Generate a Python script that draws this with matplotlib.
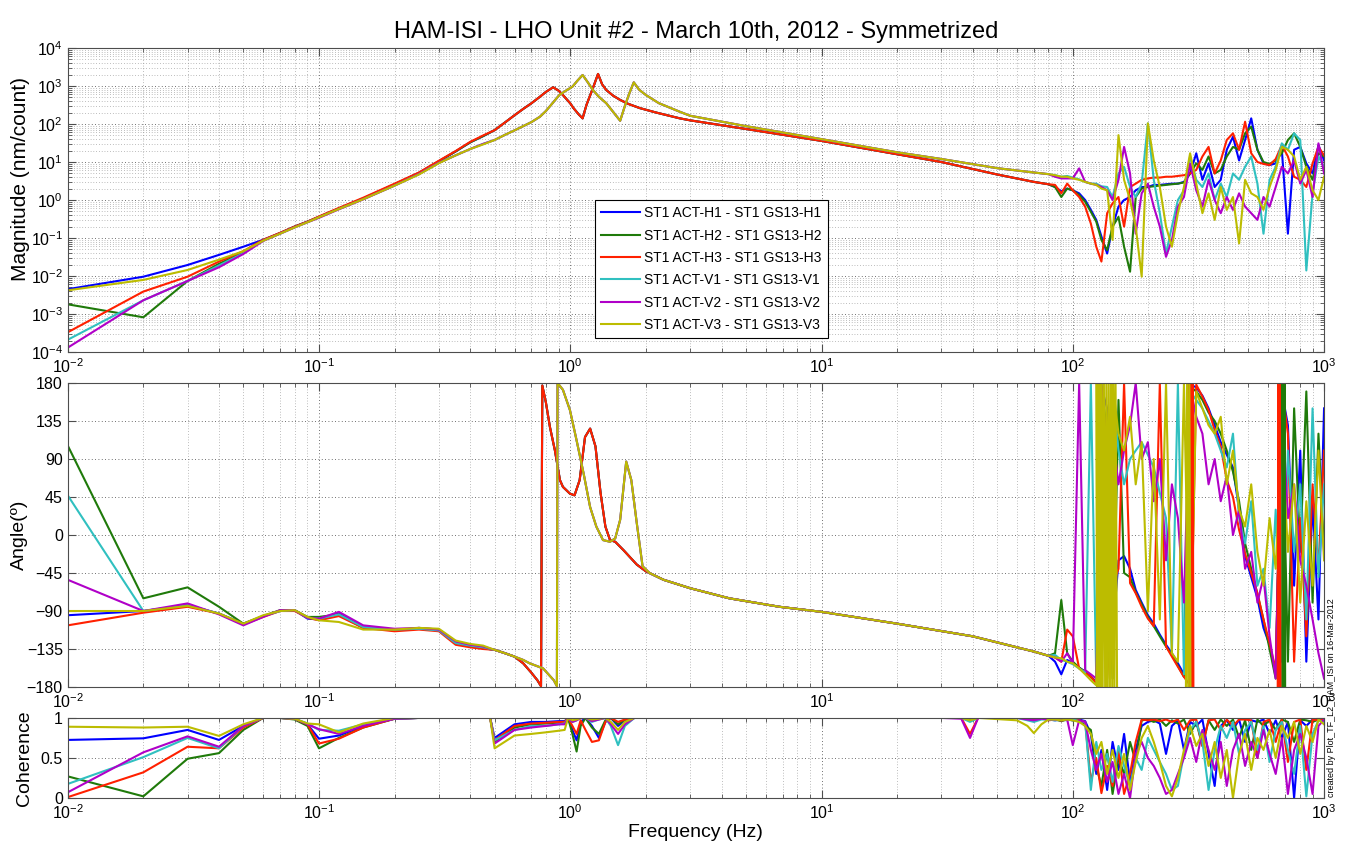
import numpy as np
import matplotlib.pyplot as plt
from matplotlib.ticker import LogLocator, FixedLocator, NullFormatter

plt.rcParams['font.family'] = ['Liberation Sans', 'DejaVu Sans']
plt.rcParams['mathtext.fontset'] = 'custom'
plt.rcParams['mathtext.rm'] = 'Liberation Sans'
plt.rcParams['mathtext.default'] = 'regular'

## Channels ##
channels = ['H1', 'H2', 'H3', 'V1', 'V2', 'V3']
labels = ['ST1 ACT-%s - ST1 GS13-%s' % (c, c) for c in channels]
colors = ['#0000ff', '#1f7a0a', '#ff2000', '#30c0c0', '#b000c8', '#bcbc00']
group = {'H1': 'H', 'H2': 'H', 'H3': 'H', 'V1': 'V', 'V2': 'V', 'V3': 'V'}

## Low frequency part, per channel ##
freq_lo = [0.01, 0.02, 0.03, 0.04, 0.05, 0.06, 0.07, 0.08, 0.09, 0.1, 0.12, 0.15, 0.2, 0.25, 0.3, 0.35, 0.4, 0.45]

mag_lo = {
    'H1': [0.0045, 0.0096, 0.0195, 0.036, 0.059, 0.09, 0.135, 0.2, 0.27, 0.36, 0.6, 1.1, 2.6, 5.2, 10.5, 19, 33, 48],
    'H2': [0.0018, 0.00082, 0.0074, 0.021, 0.042, 0.088, 0.135, 0.2, 0.27, 0.36, 0.6, 1.1, 2.6, 5.2, 10.5, 19, 33, 48],
    'H3': [0.00033, 0.0039, 0.0096, 0.024, 0.045, 0.09, 0.137, 0.2, 0.27, 0.37, 0.62, 1.15, 2.7, 5.3, 10.8, 19.5, 34, 50],
    'V1': [0.00021, 0.0023, 0.0074, 0.019, 0.04, 0.085, 0.13, 0.19, 0.26, 0.35, 0.58, 1.05, 2.4, 4.8, 9.5, 15, 22, 30],
    'V2': [0.00013, 0.0023, 0.0074, 0.017, 0.038, 0.084, 0.13, 0.19, 0.26, 0.34, 0.57, 1.04, 2.4, 4.8, 9.5, 15, 22, 30],
    'V3': [0.0042, 0.0079, 0.0144, 0.027, 0.045, 0.085, 0.13, 0.19, 0.26, 0.35, 0.58, 1.05, 2.4, 4.7, 9.3, 15, 22, 29],
}

phase_lo = {
    'H1': [-95, -90, -83, -93, -105, -96, -90, -89, -99, -100, -92, -109, -112, -111, -113, -128, -132, -134],
    'H2': [106, -75, -62, -85, -105, -96, -89, -89, -97, -97, -94, -110, -113, -110, -112, -127, -131, -134],
    'H3': [-107, -92, -85, -93, -106, -97, -90, -90, -98, -101, -96, -110, -114, -112, -114, -130, -133, -135],
    'V1': [47, -90, -83, -93, -106, -96, -90, -89, -98, -99, -94, -109, -112, -111, -113, -128, -131, -133],
    'V2': [-53, -90, -81, -94, -107, -97, -89, -89, -98, -99, -91, -107, -111, -110, -112, -126, -130, -132],
    'V3': [-90, -90, -84, -93, -105, -95, -90, -89, -97, -101, -103, -112, -112, -110, -111, -125, -129, -131],
}

coh_lo = {
    'H1': [0.725, 0.745, 0.85, 0.725, 0.9, 1.0, 1.0, 0.99, 0.92, 0.74, 0.78, 0.9, 0.99, 1.0, 1.0, 1.0, 1.0, 1.0],
    'H2': [0.27, 0.02, 0.49, 0.56, 0.85, 1.0, 1.0, 0.98, 0.9, 0.62, 0.75, 0.88, 0.99, 1.0, 1.0, 1.0, 1.0, 1.0],
    'H3': [0.01, 0.32, 0.64, 0.62, 0.88, 1.0, 1.0, 0.99, 0.92, 0.68, 0.74, 0.88, 0.99, 1.0, 1.0, 1.0, 1.0, 1.0],
    'V1': [0.175, 0.51, 0.75, 0.62, 0.9, 1.0, 1.0, 0.99, 0.93, 0.85, 0.84, 0.92, 0.99, 1.0, 1.0, 1.0, 1.0, 1.0],
    'V2': [0.07, 0.57, 0.77, 0.64, 0.9, 1.0, 1.0, 0.99, 0.92, 0.86, 0.8, 0.9, 0.99, 1.0, 1.0, 1.0, 1.0, 1.0],
    'V3': [0.89, 0.88, 0.89, 0.775, 0.92, 1.0, 1.0, 0.99, 0.93, 0.92, 0.82, 0.93, 1.0, 1.0, 1.0, 1.0, 1.0, 1.0],
}

## Resonance region, per group (H / V) ##
freq_mag_mid = {
    'H': [0.5, 0.55, 0.6, 0.65, 0.7, 0.757, 0.8, 0.855, 0.9, 0.935, 1.0, 1.03, 1.08, 1.12, 1.16, 1.23, 1.29, 1.34, 1.39, 1.48, 1.58, 1.7, 1.89, 2.2, 2.73],
    'V': [0.5, 0.55, 0.6, 0.65, 0.7, 0.757, 0.8, 0.855, 0.905, 0.96, 1.02, 1.07, 1.12, 1.17, 1.23, 1.3, 1.39, 1.48, 1.58, 1.65, 1.72, 1.79, 1.88, 2.0, 2.25, 2.73],
}
mag_mid = {
    'H': [69, 110, 170, 250, 350, 520, 700, 925, 750, 580, 350, 263, 180, 141, 316, 870, 2080, 1100, 790, 560, 430, 340, 263, 200, 141],
    'V': [38, 52, 68, 88, 112, 155, 220, 370, 580, 750, 960, 1400, 1950, 1300, 790, 520, 355, 210, 122, 300, 650, 1250, 800, 580, 355, 210],
}

freq_ph_mid = {
    'H': [0.5, 0.55, 0.6, 0.65, 0.7, 0.74, 0.765, 0.774, 0.8, 0.83, 0.869, 0.91, 0.935, 0.997, 1.04, 1.09, 1.145, 1.2, 1.26, 1.32, 1.38, 1.44, 1.51, 1.63, 1.84, 2.0, 2.35],
    'V': [0.5, 0.55, 0.6, 0.65, 0.69, 0.78, 0.86, 0.885, 0.89, 0.935, 0.997, 1.06, 1.13, 1.2, 1.27, 1.35, 1.44, 1.51, 1.58, 1.67, 1.75, 1.84, 1.94, 2.07, 2.35],
}
phase_mid = {
    'H': [-136, -140, -144, -152, -163, -172, -179, 177, 157, 128, 100, 65, 57, 49, 47, 65, 116, 126, 105, 50, 10, -6, -8, -18, -35, -43, -53],
    'V': [-136, -140, -144, -148, -152, -158, -172, -179, 180, 172, 148, 112, 73, 33, 10, -6, -8, -4, 18, 87, 65, 14, -37, -45, -53],
}

freq_coh_mid = [0.48, 0.5, 0.6, 0.7, 0.8, 0.9, 0.95, 0.98, 1.02, 1.06, 1.1, 1.15, 1.22, 1.3, 1.38, 1.45, 1.55, 1.65, 1.8, 2.0]
coh_mid = {
    'H1': [1.0, 0.75, 0.92, 0.95, 0.95, 0.96, 0.96, 1.0, 0.85, 0.72, 0.95, 1.0, 0.9, 0.75, 0.95, 1.0, 0.9, 0.97, 1.0, 1.0],
    'H2': [1.0, 0.7, 0.88, 0.92, 0.93, 0.94, 0.95, 1.0, 0.8, 0.58, 0.9, 1.0, 0.88, 0.8, 0.97, 1.0, 0.92, 0.98, 1.0, 1.0],
    'H3': [1.0, 0.72, 0.9, 0.93, 0.94, 0.95, 0.95, 1.0, 0.9, 0.8, 0.97, 0.85, 0.7, 0.72, 0.95, 1.0, 0.95, 0.98, 1.0, 1.0],
    'V1': [1.0, 0.72, 0.85, 0.9, 0.9, 0.92, 0.93, 1.0, 0.95, 0.97, 1.0, 1.0, 0.95, 0.98, 1.0, 0.9, 0.66, 0.9, 1.0, 1.0],
    'V2': [1.0, 0.68, 0.85, 0.88, 0.9, 0.92, 0.92, 1.0, 0.95, 0.97, 1.0, 1.0, 0.96, 0.98, 1.0, 0.92, 0.8, 0.92, 1.0, 1.0],
    'V3': [1.0, 0.62, 0.78, 0.8, 0.82, 0.84, 0.85, 1.0, 0.97, 0.98, 1.0, 1.0, 0.98, 0.99, 1.0, 0.95, 0.85, 0.95, 1.0, 1.0],
}

## Smooth tail ##
freq_tail_mag = [3, 5, 10, 20, 30, 50, 70, 80]
mag_tail = {
    'H': [125, 74, 36, 16, 10, 4.7, 3.0, 2.6],
    'V': [165, 88, 40, 18, 12, 6.9, 5.3, 4.8],
}
freq_tail_ph = [3, 4.3, 6.8, 10, 20, 40, 70, 80]
phase_tail = [-63, -75, -85, -91, -105, -120, -138, -143]

freq_tail_coh = [3, 10, 30, 36, 39, 42, 60, 66, 70, 75, 80]
coh_tail = {
    'H1': [1, 1, 1, 1, 0.98, 1, 1, 1, 0.99, 1, 0.98],
    'H2': [1, 1, 1, 1, 0.97, 1, 1, 1, 0.98, 1, 0.98],
    'H3': [1, 1, 1, 1, 0.8, 1, 1, 1, 0.98, 1, 0.97],
    'V1': [1, 1, 1, 1, 0.95, 1, 1, 0.97, 0.95, 0.98, 0.98],
    'V2': [1, 1, 1, 0.99, 0.75, 1, 1, 0.98, 0.97, 0.99, 0.98],
    'V3': [1, 1, 1, 1, 0.97, 1, 0.97, 0.9, 0.81, 0.92, 0.98],
}

## High frequency (noisy) part, per channel ##
freq_hf = [85, 90, 95, 100, 106, 112, 118, 124, 130, 137, 144, 152, 160, 169, 178, 188, 199, 210, 222, 235,
           248, 262, 277, 293, 310, 328, 347, 367, 388, 410, 434, 459, 485, 513, 543, 574, 607, 642, 679, 718,
           760, 804, 850, 900, 950, 1000]

mag_hf = {
    'H1': [2.2, 1.7, 2.0, 1.8, 1.5, 1.0, 0.55, 0.30, 0.11, 0.039, 0.2, 0.67, 1.0, 1.2, 1.8, 2.2, 2.2, 2.5, 2.5, 2.6,
           2.7, 2.7, 3.0, 5.0, 17, 3.4, 9.2, 2.2, 3.4, 21, 46, 11, 38, 141, 21, 9.2, 8.3, 9.2, 21, 0.13,
           21, 25, 9.2, 5.0, 28, 11],
    'H2': [2.2, 1.2, 2.0, 1.8, 1.35, 0.9, 0.49, 0.27, 0.089, 0.048, 0.2, 0.36, 0.059, 0.013, 1.2, 2.0, 2.2, 2.3, 2.4, 2.5,
           2.6, 2.7, 2.9, 5.0, 9.2, 6.2, 14, 5.0, 6.2, 14, 25, 21, 57, 85, 21, 10, 8.9, 11, 17, 38,
           57, 25, 7.5, 3.4, 17, 14],
    'H3': [2.5, 1.5, 2.7, 1.8, 1.2, 0.67, 0.24, 0.059, 0.024, 0.45, 0.82, 1.2, 0.2, 2.2, 2.7, 3.4, 3.7, 3.9, 3.9, 4.1,
           4.1, 4.3, 4.5, 5.0, 6.2, 14, 25, 5.0, 11, 38, 57, 21, 115, 17, 10, 8.9, 8.3, 12, 28, 14,
           4.1, 3.4, 2.2, 9.2, 25, 15],
    'V1': [4.5, 4.1, 4.3, 3.9, 3.5, 3.0, 2.7, 2.7, 2.3, 2.2, 1.2, 5.0, 7.5, 2.2, 1.2, 2.7, 104, 3.4, 0.45, 0.039,
           0.2, 1.0, 1.8, 14, 3.4, 2.2, 5.0, 1.0, 2.7, 1.2, 5.0, 3.4, 7.5, 14, 2.7, 0.13, 3.4, 7.5, 31, 21,
           57, 38, 0.014, 1.5, 14, 7.5],
    'V2': [4.1, 3.7, 3.7, 3.7, 6.8, 3.0, 2.7, 2.5, 2.2, 1.8, 1.0, 3.4, 25, 5.0, 0.13, 1.5, 2.7, 0.67, 0.2, 0.032,
           0.089, 0.67, 1.2, 9.2, 1.8, 0.67, 3.4, 1.0, 0.45, 1.2, 0.55, 1.5, 0.67, 0.45, 0.30, 1.2, 0.67, 2.2, 7.5, 5.0,
           11, 2.7, 6.2, 1.2, 31, 5.0],
    'V3': [4.5, 4.1, 4.1, 3.7, 3.4, 3.0, 2.7, 2.5, 2.0, 1.8, 0.089, 51, 3.4, 1.0, 0.2, 0.0096, 104, 11, 2.2, 0.2,
           0.059, 0.45, 2.2, 17, 2.7, 0.45, 1.5, 0.30, 2.2, 0.55, 1.2, 0.072, 3.4, 1.5, 1.2, 0.55, 2.2, 6.2, 25, 21,
           14, 3.4, 7.5, 1.8, 1.0, 4.1],
}

phase_hf = {
    'H1': [-150, -165, -148, -152, -157, -162, -168, -174, 175, 150, -120, -30, -25, -40, -65, -80, -95, -105, -118, -130,
           -140, -152, -165, 178, 175, 165, 150, 130, 110, 95, 80, 30, -25, -50, -75, -110, -130, -165, 170, 130,
           -60, 100, -150, 40, -100, 150],
    'H2': [-140, -77, -140, -150, -157, -162, -168, -175, 178, 120, -170, 160, -45, -50, -68, -82, -97, -108, -120, -132,
           -142, -155, -168, 176, 170, 160, 145, 135, 120, 100, 75, 40, -10, -40, -70, -100, -135, -170, 175, -150,
           150, -20, 170, -80, 120, -20],
    'H3': [-145, -150, -112, -120, -158, -163, -168, -175, 170, -170, -60, -40, 180, -57, -69, -85, -99, -108, 180, -132,
           -144, -156, -168, -178, 178, 164, 148, 124, 105, 65, 45, 6, -22, -45, -69, -100, -128, -160, 175, 120,
           -150, 20, -120, 60, -40, 100],
    'V1': [-142, -148, -150, -153, -158, -163, 180, -172, 180, -150, 170, 100, 60, 90, 100, 110, 95, 80, 50, 20,
           -140, 180, -165, 170, 160, 150, 135, 120, 100, 80, 120, 20, -10, 40, -60, -40, -110, 30, -150, 100,
           -20, 60, -100, 150, -50, 60],
    'V2': [-145, -150, -140, -152, 180, -160, -165, -170, 178, 100, 120, 60, 100, 130, 180, 90, 110, 40, 90, -30,
           60, 20, -80, 175, 140, 120, 60, 90, 40, 70, 0, 30, -40, -20, -80, -50, -120, -170, 160, 20,
           60, -30, -60, -100, -140, -170],
    'V3': [-145, -146, -150, -152, -158, -165, -172, -178, 180, -180, 180, 120, 100, 140, 60, 110, -90, 90, -100, 180,
           -140, -150, 180, -180, 170, 150, 130, 120, 140, 60, 100, 30, 10, 60, -20, -60, 20, -40, 120, -20,
           60, -80, 40, -60, 100, -30],
}

# stretches where the phase keeps wrapping between +180 and -180
v3_wrap_freq = [124, 125, 126, 127, 128, 129, 130, 131.5, 133, 134.5, 136, 137.5, 139, 140.5, 142, 143.5, 145, 146.5, 148, 150]
v3_wrap_phase = [180, -180, 180, -180, 180, -180, 180, -180, 180, -180, 180, -180, 180, -180, 180, -180, 180, -180, 180, -180]
v3_wrap2_freq = [282, 285, 288, 291, 294]
v3_wrap2_phase = [-180, 180, -180, 180, -180]
h3_wrap_freq = [288, 290, 292, 294, 296, 298, 300, 302]
h3_wrap_phase = [180, -180, 180, -180, 180, -180, 180, -180]
h3_wrap2_freq = [654, 658, 662, 666, 670]
h3_wrap2_phase = [-180, 180, -180, 180, -180]
h2_wrap_freq = [680, 684, 688, 692, 696, 700]
h2_wrap_phase = [180, -180, 180, -180, 180, -180]

coh_hf = {
    'H1': [0.97, 0.98, 0.98, 0.97, 0.98, 0.96, 0.8, 0.3, 0.6, 0.1, 0.7, 0.35, 0.8, 0.2, 0.6, 0.9, 0.95, 0.97, 0.93, 0.55,
           0.9, 0.97, 0.6, 0.95, 0.9, 0.98, 0.55, 0.15, 0.9, 0.97, 0.85, 0.98, 0.7, 0.97, 0.95, 0.98, 0.8, 0.97, 0.75, 0.95,
           0.0, 0.97, 0.9, 0.98, 0.98, 0.97],
    'H2': [0.98, 0.96, 0.98, 0.97, 0.98, 0.9, 0.85, 0.4, 0.15, 0.6, 0.05, 0.5, 0.3, 0.7, 0.45, 0.97, 0.98, 0.95, 0.98, 0.9,
           0.97, 0.93, 0.98, 0.8, 0.95, 0.65, 0.97, 0.85, 0.98, 0.9, 0.98, 0.75, 0.97, 0.6, 0.98, 0.9, 0.97, 0.85, 0.98, 0.95,
           0.7, 0.98, 0.97, 0.95, 0.98, 0.98],
    'H3': [0.98, 0.97, 0.98, 0.98, 0.97, 0.95, 0.2, 0.5, 0.06, 0.4, 0.15, 0.6, 0.05, 0.3, 0.7, 0.98, 0.97, 0.98, 0.96, 0.98,
           0.95, 0.98, 0.85, 0.97, 0.98, 0.65, 0.97, 0.98, 0.85, 0.98, 0.9, 0.98, 0.98, 0.97, 0.5, 0.95, 0.98, 0.7, 0.98, 0.45,
           0.95, 0.98, 0.35, 0.98, 0.97, 0.98],
    'V1': [0.97, 0.98, 0.97, 0.98, 0.96, 0.95, 0.1, 0.7, 0.35, 0.55, 0.2, 0.65, 0.4, 0.15, 0.5, 0.35, 0.75, 0.6, 0.45, 0.3,
           0.1, 0.15, 0.55, 0.85, 0.95, 0.7, 0.1, 0.6, 0.9, 0.75, 0.95, 0.55, 0.85, 0.95, 0.6, 0.9, 0.45, 0.85, 0.95, 0.6,
           0.3, 0.9, 0.02, 0.8, 0.97, 0.95],
    'V2': [0.98, 0.97, 0.98, 0.66, 0.97, 0.95, 0.6, 0.35, 0.55, 0.2, 0.45, 0.05, 0.3, 0.0, 0.55, 0.7, 0.5, 0.4, 0.25, 0.05,
           0.1, 0.3, 0.5, 0.75, 0.45, 0.85, 0.6, 0.35, 0.7, 0.15, 0.6, 0.8, 0.4, 0.7, 0.5, 0.85, 0.55, 0.3, 0.75, 0.05,
           0.6, 0.8, 0.5, 0.05, 0.9, 0.98],
    'V3': [0.98, 0.97, 0.98, 0.97, 0.95, 0.9, 0.8, 0.55, 0.7, 0.3, 0.6, 0.25, 0.55, 0.1, 0.45, 0.75, 0.9, 0.7, 0.45, 0.15,
           0.02, 0.25, 0.6, 0.9, 0.65, 0.8, 0.4, 0.7, 0.25, 0.6, 0.0, 0.55, 0.8, 0.35, 0.75, 0.6, 0.85, 0.5, 0.9, 0.75,
           0.95, 0.55, 0.9, 0.7, 0.98, 0.92],
}

## Figure ##
fig = plt.figure(figsize=(13.46, 8.47), dpi=100)
left, width = 0.0503, 0.9334
ax_mag = fig.add_axes([left, 0.5844, width, 0.3589])
ax_ph = fig.add_axes([left, 0.1889, width, 0.3589])
ax_coh = fig.add_axes([left, 0.0579, width, 0.0945])

for ch, lab, col in zip(channels, labels, colors):
    g = group[ch]
    f_m = freq_lo + freq_mag_mid[g] + freq_tail_mag + freq_hf
    m = mag_lo[ch] + mag_mid[g] + mag_tail[g] + mag_hf[ch]
    ax_mag.loglog(f_m, m, color=col, lw=1.5, label=lab)

    f_p = freq_lo + freq_ph_mid[g] + freq_tail_ph + freq_hf
    p = phase_lo[ch] + phase_mid[g] + phase_tail + phase_hf[ch]
    ax_ph.semilogx(f_p, p, color=col, lw=1.5)

    f_c = freq_lo + freq_coh_mid + freq_tail_coh + freq_hf
    c = coh_lo[ch] + coh_mid[ch] + coh_tail[ch] + coh_hf[ch]
    ax_coh.semilogx(f_c, c, color=col, lw=1.5)

ax_ph.semilogx(h2_wrap_freq, h2_wrap_phase, color=colors[1], lw=1.5)
ax_ph.semilogx(h3_wrap_freq, h3_wrap_phase, color=colors[2], lw=1.5)
ax_ph.semilogx(h3_wrap2_freq, h3_wrap2_phase, color=colors[2], lw=1.5)
ax_ph.semilogx(v3_wrap_freq, v3_wrap_phase, color=colors[5], lw=1.5)
ax_ph.semilogx(v3_wrap2_freq, v3_wrap2_phase, color=colors[5], lw=1.5)

grid_major = dict(color='0.25', lw=0.6, ls=(0, (1, 3)))
grid_minor = dict(color='0.5', lw=0.5, ls=(0, (1, 3)))

for ax in (ax_mag, ax_ph, ax_coh):
    ax.set_xlim(1e-2, 1e3)
    ax.xaxis.set_major_locator(LogLocator(base=10, numticks=20))
    ax.xaxis.set_minor_locator(LogLocator(base=10, subs=np.arange(2, 10), numticks=20))
    ax.xaxis.set_minor_formatter(NullFormatter())
    ax.tick_params(which='both', direction='in', top=True, right=True, labelsize=11.5, color='0.3')
    ax.tick_params(which='major', length=6)
    ax.tick_params(which='minor', length=3)
    ax.grid(True, which='major', **grid_major)
    ax.grid(True, which='minor', axis='x', **grid_minor)
    for s in ax.spines.values():
        s.set_color('0.3')
    ax.set_axisbelow(True)

ax_mag.set_ylim(1e-4, 1e4)
ax_mag.yaxis.set_major_locator(LogLocator(base=10, numticks=20))
ax_mag.yaxis.set_minor_locator(LogLocator(base=10, subs=np.arange(2, 10), numticks=20))
ax_mag.yaxis.set_minor_formatter(NullFormatter())
ax_mag.grid(True, which='minor', axis='y', **grid_minor)
ax_mag.set_ylabel('Magnitude (nm/count)', fontsize=15)
ax_mag.yaxis.set_label_coords(-0.030, 0.57)
ax_mag.set_title('HAM-ISI - LHO Unit #2 - March 10th, 2012 - Symmetrized', fontsize=17, pad=7)

ax_ph.set_ylim(-180, 180)
ax_ph.yaxis.set_major_locator(FixedLocator([-180, -135, -90, -45, 0, 45, 90, 135, 180]))
ax_ph.set_ylabel('Angle(º)', fontsize=14)
ax_ph.yaxis.set_label_coords(-0.032, 0.5)

ax_coh.set_ylim(0, 1)
ax_coh.yaxis.set_major_locator(FixedLocator([0, 0.5, 1]))
ax_coh.set_yticklabels(['0', '0.5', '1'])
ax_coh.set_ylabel('Coherence', fontsize=14)
ax_coh.yaxis.set_label_coords(-0.028, 0.5)
ax_coh.set_xlabel('Frequency (Hz)', fontsize=14, labelpad=2)

leg = ax_mag.legend(loc='upper left', bbox_to_anchor=(0.4197, 0.5), fontsize=10,
                    frameon=True, fancybox=False, edgecolor='k', framealpha=1,
                    borderpad=0.45, labelspacing=0.6, handlelength=2.8, handletextpad=0.3,
                    borderaxespad=0)
leg.get_frame().set_linewidth(0.8)

fig.text(0.9895, 0.059, 'created by Plot_TF_L2_HAM_ISI on 16-Mar-2012', rotation=90,
         fontsize=6.5, ha='center', va='bottom')

fig.savefig('out.png', dpi=100)
